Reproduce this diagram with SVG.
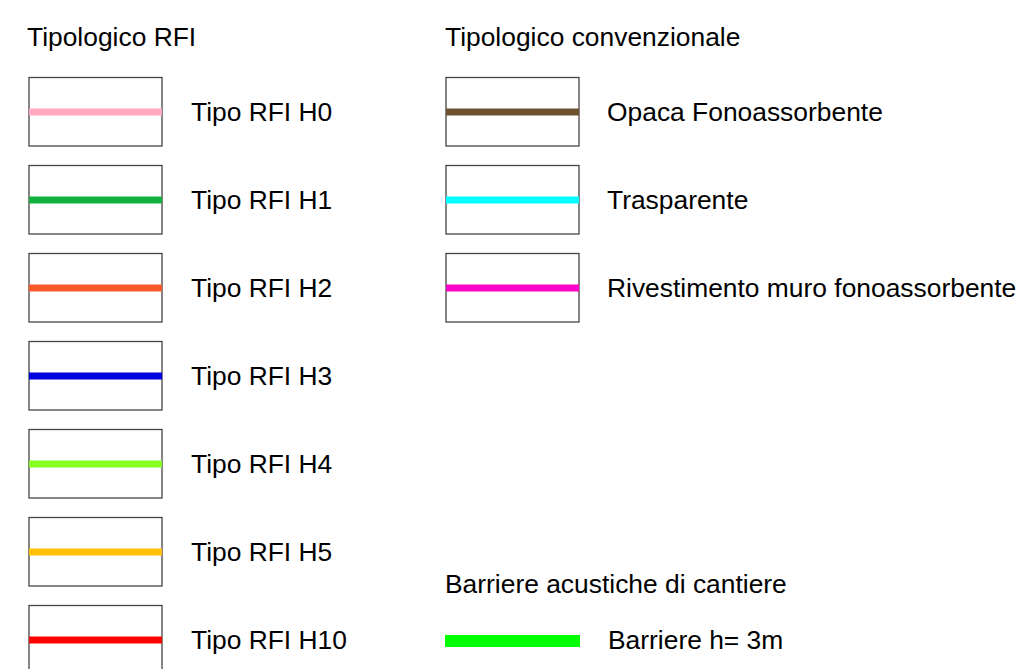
<svg xmlns="http://www.w3.org/2000/svg" width="1019" height="669" viewBox="0 0 1019 669">
<style>
text{font-family:"Liberation Sans",Arial,sans-serif;font-size:26.4px;fill:#000}
.box{fill:#fff;stroke:#444;stroke-width:1.3}
.ln{stroke-width:7;fill:none}
</style>
<rect width="1019" height="669" fill="#fff"/>
<text x="27" y="46">Tipologico RFI</text>
<text x="445" y="46">Tipologico convenzionale</text>
<text x="445" y="593">Barriere acustiche di cantiere</text>
<g id="h0"><rect class="box" x="29" y="77.5" width="133" height="68.5"/><line class="ln" x1="29" y1="112" x2="162" y2="112" stroke="#FFAAC0"/><text x="191" y="121">Tipo RFI H0</text></g>
<g id="h1"><rect class="box" x="29" y="165.5" width="133" height="68.5"/><line class="ln" x1="29" y1="200" x2="162" y2="200" stroke="#10B040"/><text x="191" y="209">Tipo RFI H1</text></g>
<g id="h2"><rect class="box" x="29" y="253.5" width="133" height="68.5"/><line class="ln" x1="29" y1="288" x2="162" y2="288" stroke="#FF5A28"/><text x="191" y="297">Tipo RFI H2</text></g>
<g id="h3"><rect class="box" x="29" y="341.5" width="133" height="68.5"/><line class="ln" x1="29" y1="376" x2="162" y2="376" stroke="#0000E0"/><text x="191" y="385">Tipo RFI H3</text></g>
<g id="h4"><rect class="box" x="29" y="429.5" width="133" height="68.5"/><line class="ln" x1="29" y1="464" x2="162" y2="464" stroke="#88FF22"/><text x="191" y="473">Tipo RFI H4</text></g>
<g id="h5"><rect class="box" x="29" y="517.5" width="133" height="68.5"/><line class="ln" x1="29" y1="552" x2="162" y2="552" stroke="#FFC000"/><text x="191" y="561">Tipo RFI H5</text></g>
<g id="h10"><rect class="box" x="29" y="605.5" width="133" height="68.5"/><line class="ln" x1="29" y1="640" x2="162" y2="640" stroke="#FF0000"/><text x="191" y="649">Tipo RFI H10</text></g>
<g id="opaca"><rect class="box" x="446" y="77.5" width="133" height="68.5"/><line class="ln" x1="446" y1="112" x2="579" y2="112" stroke="#6E5032"/><text x="607" y="121">Opaca Fonoassorbente</text></g>
<g id="trasp"><rect class="box" x="446" y="165.5" width="133" height="68.5"/><line class="ln" x1="446" y1="200" x2="579" y2="200" stroke="#00FFFF"/><text x="607" y="209">Trasparente</text></g>
<g id="rivest"><rect class="box" x="446" y="253.5" width="133" height="68.5"/><line class="ln" x1="446" y1="288" x2="579" y2="288" stroke="#FF00C8"/><text x="607" y="297">Rivestimento muro fonoassorbente</text></g>
<g id="barriere"><rect x="445" y="635" width="135" height="12" fill="#00FF00"/><text x="608" y="649">Barriere h= 3m</text></g>
</svg>
